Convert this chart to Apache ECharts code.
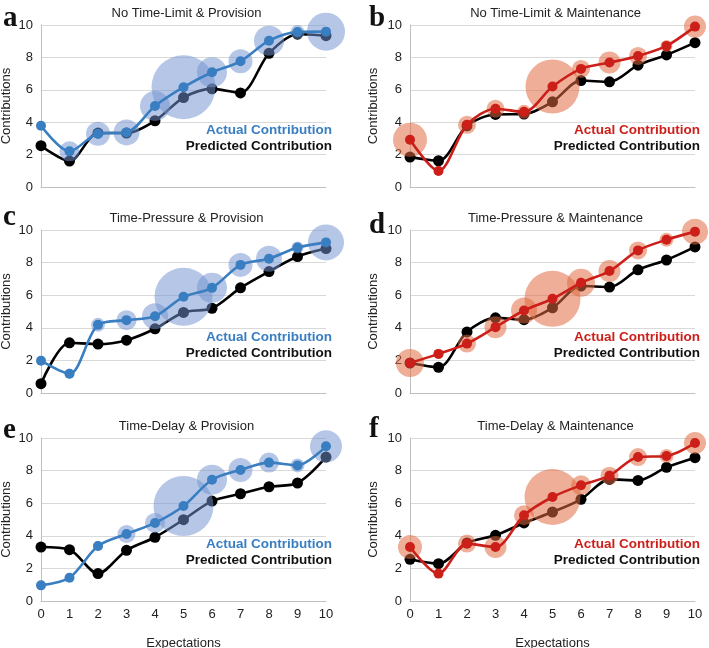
<!DOCTYPE html>
<html><head><meta charset="utf-8">
<script src="https://cdn.jsdelivr.net/npm/echarts@6/dist/echarts.min.js"></script>
<style>html,body{margin:0;padding:0;background:#fff}#c{width:709px;height:648px}</style>
</head><body><div id="c"></div>
<script>
const expectations = [0,1,2,3,4,5,6,7,8,9,10];
const yTicks = [0,2,4,6,8,10];
const panelTitles = ['No Time-Limit & Provision','No Time-Limit & Maintenance','Time-Pressure & Provision','Time-Pressure & Maintenance','Time-Delay & Provision','Time-Delay & Maintenance'];
const panelLetters = ['a','b','c','d','e','f'];
// actual contributions
const actualA = [3.78,2.2,3.29,3.37,5.0,6.16,7.08,7.76,9.03,9.57,9.59];
const actualB = [2.92,0.99,3.84,4.83,4.64,6.2,7.29,7.68,8.09,8.71,9.9];
const actualC = [1.98,1.18,4.18,4.47,4.71,5.9,6.45,7.86,8.24,8.92,9.24];
const actualD = [1.84,2.4,3.03,4.04,5.06,5.78,6.76,7.48,8.75,9.4,9.9];
const actualE = [0.96,1.43,3.37,4.11,4.79,5.83,7.44,8.04,8.49,8.32,9.49];
const actualF = [3.31,1.68,3.52,3.31,5.26,6.38,7.1,7.69,8.83,8.9,9.69];
// predicted contributions
const predA = [2.55,1.6,3.33,3.33,4.09,5.52,6.06,5.81,8.25,9.43,9.34];
const predB = [1.85,1.62,3.78,4.48,4.5,5.26,6.57,6.49,7.52,8.15,8.91];
const predC = [0.57,3.08,3.0,3.24,3.94,4.94,5.2,6.45,7.45,8.37,8.86];
const predD = [1.84,1.58,3.75,4.61,4.5,5.23,6.56,6.5,7.56,8.16,8.96];
const predE = [3.31,3.15,1.68,3.11,3.91,4.99,6.13,6.58,7.01,7.24,8.83];
const predF = [2.56,2.29,3.56,4.03,4.79,5.46,6.24,7.46,7.4,8.2,8.79];
// relative frequency of each expectation (bubble area)
const freqA = [0,100,144,169,225,1024,225,144,225,49,361];
const freqB = [289,0,81,81,49,729,81,121,81,36,121];
const freqC = [0,25,49,100,169,841,225,144,169,36,324];
const freqD = [196,25,81,121,169,784,196,121,81,49,169];
const freqE = [0,0,25,81,100,900,225,144,100,49,256];
const freqF = [144,9,81,121,100,784,100,81,81,49,121];

const actuals = [actualA,actualB,actualC,actualD,actualE,actualF];
const preds = [predA,predB,predC,predD,predE,predF];
const freqs = [freqA,freqB,freqC,freqD,freqE,freqF];

const FONT = 'Liberation Sans, Arial, sans-serif';
const layout = [
  {left:41, top:25, h:162}, {left:410, top:25, h:162},
  {left:41, top:230, h:163}, {left:410, top:230, h:163},
  {left:41, top:438, h:163}, {left:410, top:438, h:163}
];
const W = 285;
const letterBase = [26,26,225,233,438,437];
const legendY = [130,130,337,337,544,544];

const grids=[], xAxes=[], yAxes=[], series=[], titles=[], graphics=[];
for (let i=0;i<6;i++){
  const L = layout[i];
  const isRed = i%2===1;
  const lineColor = isRed ? '#cc1f1a' : '#3a7ec2';
  const bubbleColor = isRed ? 'rgba(224,105,62,0.68)' : 'rgba(113,146,207,0.65)';
  const bottomRow = i>=4;
  grids.push({left:L.left, top:L.top, width:W, height:L.h, containLabel:false, outerBoundsMode:'none'});
  xAxes.push({gridIndex:i, type:'value', min:0, max:10, interval:1,
    axisLine:{show:true, lineStyle:{color:'#bfbfbf', width:1}}, axisTick:{show:false},
    splitLine:{show:false},
    axisLabel:{show:bottomRow, color:'#222', fontFamily:FONT, fontSize:13, margin:7},
    name: bottomRow ? 'Expectations' : '', nameLocation:'middle', nameGap:36,
    nameTextStyle:{color:'#222', fontFamily:FONT, fontSize:13}});
  yAxes.push({gridIndex:i, type:'value', min:0, max:10, interval:2,
    axisLine:{show:true, lineStyle:{color:'#bfbfbf', width:1}}, axisTick:{show:false},
    splitLine:{show:true, lineStyle:{color:'#d9d9d9', width:1}},
    axisLabel:{color:'#222', fontFamily:FONT, fontSize:13, margin:8},
    name:'Contributions', nameLocation:'middle', nameGap: isRed?30:28,
    nameTextStyle:{color:'#222', fontFamily:FONT, fontSize:13}});
  const pred = preds[i], act = actuals[i], fr = freqs[i];
  series.push({type:'line', xAxisIndex:i, yAxisIndex:i, z:2, smooth:0.3,
    data: expectations.map((x,k)=>[x,pred[k]]),
    symbol:'circle', symbolSize:11, showSymbol:true,
    lineStyle:{color:'#000', width:2.6}, itemStyle:{color:'#000'}, animation:false});
  series.push({type:'scatter', xAxisIndex:i, yAxisIndex:i, z:3,
    data: expectations.map((x,k)=>[x,act[k],fr[k]]),
    symbolSize: v => 2*Math.sqrt(v[2]),
    itemStyle:{color:bubbleColor}, animation:false, silent:true});
  series.push({type:'line', xAxisIndex:i, yAxisIndex:i, z:4, smooth:0.3,
    data: expectations.map((x,k)=>[x,act[k]]),
    symbol:'circle', symbolSize:10, showSymbol:true,
    lineStyle:{color:lineColor, width:2.6}, itemStyle:{color:lineColor}, animation:false});
  titles.push({text:panelTitles[i], left:L.left+W/2-2, top:L.top-23, textAlign:'center',
    textStyle:{fontFamily:FONT, fontSize:13, fontWeight:'normal', color:'#222'}});
  const letterX = isRed ? 369 : 3;
  graphics.push({type:'text', left:letterX, top:letterBase[i]-22, z:10,
    style:{text:panelLetters[i], font:'bold 29px "Liberation Serif", "Times New Roman", serif', fill:'#111'}});
  const rightEdge = isRed ? 700 : 332;
  graphics.push({type:'text', x:rightEdge, y:legendY[i], z:10,
    style:{text:'Actual Contribution', align:'right', verticalAlign:'middle',
      font:'bold 13.5px '+FONT, fill:lineColor}});
  graphics.push({type:'text', x:rightEdge, y:legendY[i]+16, z:10,
    style:{text:'Predicted Contribution', align:'right', verticalAlign:'middle',
      font:'bold 13.5px '+FONT, fill:'#111'}});
}

const chart = echarts.init(document.getElementById('c'), null, {renderer:'canvas'});
chart.setOption({animation:false, backgroundColor:'#fff', title:titles, grid:grids,
  xAxis:xAxes, yAxis:yAxes, series:series, graphic:graphics});
</script></body></html>
